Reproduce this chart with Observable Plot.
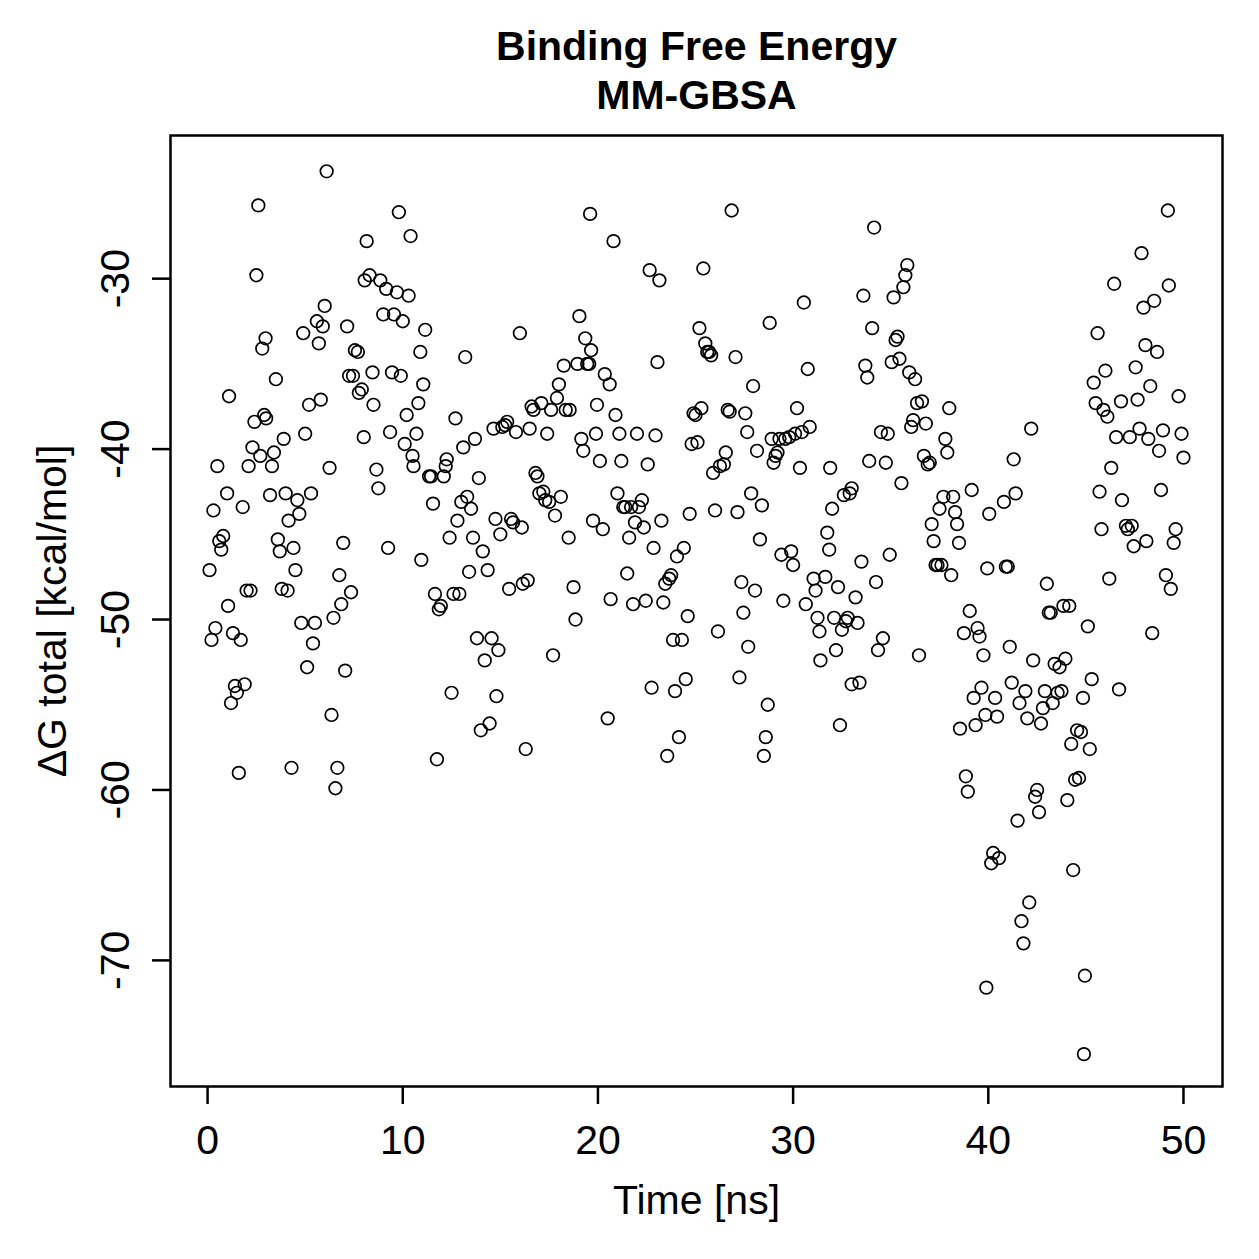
<!DOCTYPE html>
<html>
<head>
<meta charset="utf-8">
<script src="https://cdn.jsdelivr.net/npm/d3@7"></script>
<script src="https://cdn.jsdelivr.net/npm/@observablehq/plot@0.6"></script>
<style>
  html, body { margin: 0; padding: 0; background: #fff; }
  #chart { width: 1259px; height: 1259px; }
</style>
</head>
<body>
<div id="chart"></div>
<script>
// ---- data ----
const titleLines = ["Binding Free Energy", "MM-GBSA"];
const xLabel = "Time [ns]";
const yLabel = "\u0394G total [kcal/mol]";
const xTicks = [0, 10, 20, 30, 40, 50];
const yTicks = [-30, -40, -50, -60, -70];

const time = [
0.1,0.2,0.3,0.4,0.5,0.6,0.7,0.8,1.0,1.05,1.1,1.2,1.3,1.4,1.5,1.6,1.7,1.8,1.9,2.0,
2.2,2.1,2.3,2.4,2.5,2.6,2.7,2.8,2.9,3.0,2.97,3.2,3.3,3.4,3.5,3.6,3.7,3.8,3.9,4.0,
4.1,4.15,4.3,4.4,4.5,4.6,4.7,4.8,4.9,5.0,5.1,5.2,5.3,5.4,5.5,5.6,5.7,5.8,5.9,6.0,
6.1,6.25,6.35,6.45,6.55,6.65,6.75,6.85,6.95,7.05,7.15,7.25,7.35,7.45,7.55,7.7,7.75,7.9,8.0,8.15,
8.05,8.3,8.45,8.5,8.65,8.75,8.85,9.0,9.15,9.25,9.35,9.45,9.55,9.7,9.8,9.9,10.0,10.1,10.2,10.3,
10.4,10.5,10.55,10.7,10.8,10.9,10.95,11.05,11.15,11.35,11.45,11.55,11.65,11.75,11.85,11.95,12.1,12.2,12.25,12.4,
12.5,12.6,12.7,12.8,12.9,13.0,13.1,13.2,13.3,13.4,13.5,13.6,13.7,13.8,13.9,14.0,14.1,14.2,14.35,14.45,
14.55,14.65,14.75,14.8,14.9,15.0,15.1,15.25,15.35,15.45,15.55,15.65,15.8,16.0,16.1,16.15,16.3,16.4,16.5,16.6,
16.7,16.8,16.9,17.0,17.1,17.2,17.3,17.4,17.5,17.6,17.7,17.8,17.9,18.0,18.1,18.25,18.35,18.5,18.55,18.75,
18.85,18.95,19.05,19.15,19.25,19.35,19.45,19.55,19.65,19.6,19.75,19.9,19.95,20.1,20.25,20.35,20.5,20.6,20.65,20.8,
20.9,21.0,21.1,21.2,21.3,21.4,21.5,21.6,21.7,21.8,21.9,22.0,22.1,22.25,22.35,22.45,22.55,22.65,22.75,22.85,
22.95,23.05,23.15,23.25,23.35,23.45,23.55,23.65,23.75,23.85,23.95,24.05,24.15,24.3,24.4,24.5,24.6,24.7,24.8,24.9,
25.0,25.1,25.2,25.3,25.4,25.5,25.6,25.7,25.8,25.9,26.0,26.15,26.25,26.45,26.55,26.65,26.75,26.85,27.05,27.15,
27.25,27.35,27.45,27.55,27.65,27.7,27.85,27.95,28.05,28.15,28.3,28.4,28.5,28.6,28.7,28.8,28.9,29.0,29.1,29.2,
29.3,29.4,29.5,29.6,29.8,29.9,30.0,30.1,30.2,30.35,30.45,30.55,30.65,30.75,30.85,31.05,31.15,31.25,31.35,31.4,
31.65,31.75,31.85,31.9,32.0,32.1,32.2,32.3,32.4,32.5,32.6,32.7,32.8,32.9,33.0,33.0,33.2,33.3,33.4,33.5,
33.6,33.7,33.8,33.9,34.05,34.15,34.25,34.35,34.5,34.6,34.75,34.85,34.95,35.05,35.15,35.25,35.35,35.45,35.55,35.65,
35.75,35.85,35.95,36.05,36.15,36.25,36.35,36.45,36.6,36.7,36.8,36.9,37.0,37.1,37.2,37.3,37.4,37.5,37.6,37.7,
37.8,37.9,38.0,38.1,38.2,38.3,38.4,38.5,38.55,38.75,38.85,38.95,39.05,39.15,39.25,39.35,39.45,39.55,39.65,39.75,
39.85,39.95,39.9,40.05,40.15,40.25,40.35,40.45,40.55,40.8,40.9,41.0,41.1,41.2,41.3,41.4,41.5,41.6,41.7,41.8,
41.9,42.0,42.1,42.2,42.3,42.4,42.5,42.6,42.7,42.8,42.9,43.0,43.1,43.2,43.3,43.4,43.55,43.65,43.75,43.85,
43.95,44.05,44.15,44.25,44.35,44.45,44.55,44.65,44.75,44.85,44.95,44.9,45.1,45.2,45.3,45.4,45.5,45.6,45.7,45.8,
45.9,46.0,46.1,46.2,46.3,46.45,46.55,46.7,46.8,46.85,47.05,47.15,47.25,47.35,47.45,47.55,47.65,47.75,47.85,47.95,
48.05,48.1,48.2,48.3,48.4,48.5,48.65,48.75,48.85,48.95,49.1,49.2,49.25,49.35,49.5,49.6,49.75,49.9,50.0
];

const dG = [
-47.1,-51.2,-43.6,-50.5,-41.0,-45.4,-45.9,-45.1,-42.6,-49.2,-36.9,-54.9,-50.8,-53.9,-54.3,-59.0,-51.2,-43.4,-53.8,-48.3,
-48.3,-41.0,-39.9,-38.4,-29.8,-25.7,-40.4,-34.1,-38.0,-38.2,-33.5,-42.7,-41.0,-40.2,-35.9,-45.3,-46.0,-48.2,-39.4,-42.6,
-48.3,-44.2,-58.7,-45.8,-47.1,-43.0,-43.8,-50.2,-33.2,-39.1,-52.8,-37.4,-42.6,-51.4,-50.2,-32.5,-33.8,-37.1,-32.8,-31.6,
-23.7,-41.1,-55.6,-49.9,-59.9,-58.7,-47.4,-49.1,-45.5,-53.0,-32.8,-35.7,-48.4,-35.7,-34.2,-34.3,-36.7,-36.5,-39.3,-27.8,
-30.1,-29.8,-35.5,-37.4,-41.2,-42.3,-30.1,-32.1,-30.6,-45.8,-39.0,-35.5,-32.1,-30.8,-26.1,-35.7,-32.5,-39.7,-38.0,-31.0,
-27.5,-40.4,-41.0,-39.1,-37.3,-34.3,-46.5,-36.2,-33.0,-41.6,-41.6,-43.2,-48.5,-58.2,-49.4,-49.2,-41.6,-41.0,-40.6,-45.2,
-54.3,-48.5,-38.2,-44.2,-48.5,-43.1,-39.9,-34.6,-42.8,-47.2,-43.5,-45.2,-39.4,-51.1,-41.7,-56.5,-46.0,-52.4,-47.1,-56.1,
-51.1,-38.8,-44.1,-54.5,-51.8,-45.0,-38.7,-38.6,-38.4,-48.2,-44.1,-44.3,-39.0,-33.2,-44.6,-47.9,-57.6,-47.7,-38.8,-37.5,
-37.7,-41.4,-41.6,-42.6,-37.3,-42.5,-43.0,-39.1,-43.1,-37.7,-52.1,-43.9,-37.0,-36.2,-42.8,-35.1,-37.7,-45.2,-37.7,-48.1,
-50.0,-35.0,-32.2,-39.4,-40.1,-33.5,-35.0,-35.0,-34.2,-26.2,-44.2,-39.1,-37.4,-40.7,-44.7,-35.6,-55.8,-36.2,-48.8,-27.8,
-38.0,-42.6,-39.1,-40.7,-43.4,-43.4,-47.3,-45.2,-43.4,-49.1,-44.3,-39.1,-43.4,-43.0,-44.6,-48.9,-40.9,-29.5,-54.0,-45.8,
-39.2,-34.9,-30.1,-44.2,-49.0,-47.9,-58.0,-47.6,-47.4,-51.2,-54.2,-46.3,-56.9,-51.2,-45.8,-53.5,-49.8,-43.8,-39.7,-37.9,
-38.0,-39.6,-32.9,-37.6,-29.4,-33.8,-34.3,-34.3,-34.5,-41.4,-43.6,-50.7,-41.0,-40.9,-40.2,-37.7,-37.8,-26.0,-34.6,-43.7,
-53.4,-47.8,-49.6,-37.9,-39.0,-51.6,-42.6,-36.3,-48.3,-40.1,-45.3,-43.3,-58.0,-56.9,-55.0,-32.6,-39.4,-40.8,-40.4,-40.2,
-39.4,-46.2,-48.9,-39.4,-39.3,-46.0,-46.8,-39.1,-37.6,-41.1,-39.0,-31.4,-49.1,-35.3,-38.7,-47.6,-48.3,-49.9,-50.7,-52.4,
-47.5,-44.9,-45.9,-41.1,-43.5,-49.9,-51.8,-48.1,-56.2,-50.6,-42.7,-50.1,-49.9,-42.6,-42.3,-53.8,-48.7,-50.2,-53.7,-46.6,
-31.0,-35.1,-35.8,-40.7,-32.9,-27.0,-47.8,-51.8,-39.0,-51.1,-40.8,-39.1,-46.2,-34.9,-31.1,-33.6,-33.4,-34.7,-42.0,-30.5,
-29.8,-29.2,-35.5,-38.7,-38.3,-35.9,-37.3,-52.1,-37.2,-40.4,-38.5,-40.9,-40.8,-44.4,-45.4,-46.8,-46.8,-43.5,-46.8,-42.8,
-39.4,-40.2,-37.6,-47.4,-42.8,-43.7,-44.4,-45.5,-56.4,-50.8,-59.2,-60.1,-49.5,-42.4,-54.6,-56.2,-50.5,-51.0,-54.0,-52.1,
-55.6,-47.0,-71.6,-43.8,-64.3,-63.7,-54.6,-55.7,-64.0,-43.1,-46.9,-46.9,-51.6,-53.7,-40.6,-42.6,-61.8,-54.9,-67.7,-69.0,
-54.2,-55.8,-66.6,-38.8,-52.4,-60.4,-60.0,-61.3,-56.1,-55.2,-54.2,-47.9,-49.6,-49.6,-54.9,-52.6,-54.3,-52.8,-54.2,-49.2,
-52.3,-60.6,-49.2,-57.3,-64.7,-59.4,-56.5,-59.3,-56.6,-54.6,-70.9,-75.5,-50.4,-57.6,-53.5,-36.1,-37.3,-33.2,-42.5,-44.7,
-37.7,-35.4,-38.1,-47.6,-41.1,-30.3,-39.3,-54.1,-37.2,-43.0,-44.5,-44.7,-39.3,-44.5,-45.7,-35.2,-37.1,-38.8,-28.5,-31.7,
-33.9,-45.4,-39.4,-36.3,-50.8,-31.3,-34.3,-40.1,-42.4,-38.9,-47.4,-26.0,-30.4,-48.2,-45.5,-44.7,-36.9,-39.1,-40.5
];

const points = time.map((t, i) => ({t, g: dG[i]}));
const font = "'Liberation Sans', Arial, Helvetica, sans-serif";
const fs = 41;

const chart = Plot.plot({
  width: 1259,
  height: 1259,
  marginLeft: 170,
  marginRight: 37,
  marginTop: 135,
  marginBottom: 173,
  style: {fontFamily: font, background: "#fff", color: "#000"},
  x: {domain: [-1.9, 52.0]},
  y: {domain: [-77.4, -21.6]},
  marks: [
    Plot.frame({stroke: "#000", strokeWidth: 2.5}),
    Plot.dot(points, {x: "t", y: "g", r: 6.3, stroke: "#000", strokeWidth: 1.7, fill: "none"}),
    // x axis ticks
    Plot.axisX({ticks: xTicks, tickSize: 18, tickFormat: () => "", label: null, strokeWidth: 2.5}),
    Plot.text(xTicks, {x: d => d, text: d => String(d), frameAnchor: "bottom", lineAnchor: "middle", textAnchor: "middle", dy: 54, fontSize: fs, fill: "#000"}),
    // y axis ticks
    Plot.axisY({ticks: yTicks, tickSize: 18, tickFormat: () => "", label: null, strokeWidth: 2.5}),
    Plot.text(yTicks, {y: d => d, text: d => "-" + Math.abs(d), frameAnchor: "left", lineAnchor: "middle", textAnchor: "middle", dx: -55, rotate: -90, fontSize: fs, fill: "#000"}),
    // axis titles
    Plot.text([xLabel], {text: d => d, frameAnchor: "bottom", lineAnchor: "middle", textAnchor: "middle", dy: 114, fontSize: fs, fill: "#000"}),
    Plot.text([yLabel], {text: d => d, frameAnchor: "left", lineAnchor: "middle", textAnchor: "middle", dx: -118, rotate: -90, fontSize: fs, fill: "#000"}),
    // title
    Plot.text([titleLines[0]], {text: d => d, frameAnchor: "top", lineAnchor: "middle", textAnchor: "middle", dy: -89, fontSize: fs, fontWeight: "bold", fill: "#000"}),
    Plot.text([titleLines[1]], {text: d => d, frameAnchor: "top", lineAnchor: "middle", textAnchor: "middle", dy: -40, fontSize: fs, fontWeight: "bold", fill: "#000"})
  ]
});
document.getElementById("chart").appendChild(chart);
</script>
</body>
</html>
